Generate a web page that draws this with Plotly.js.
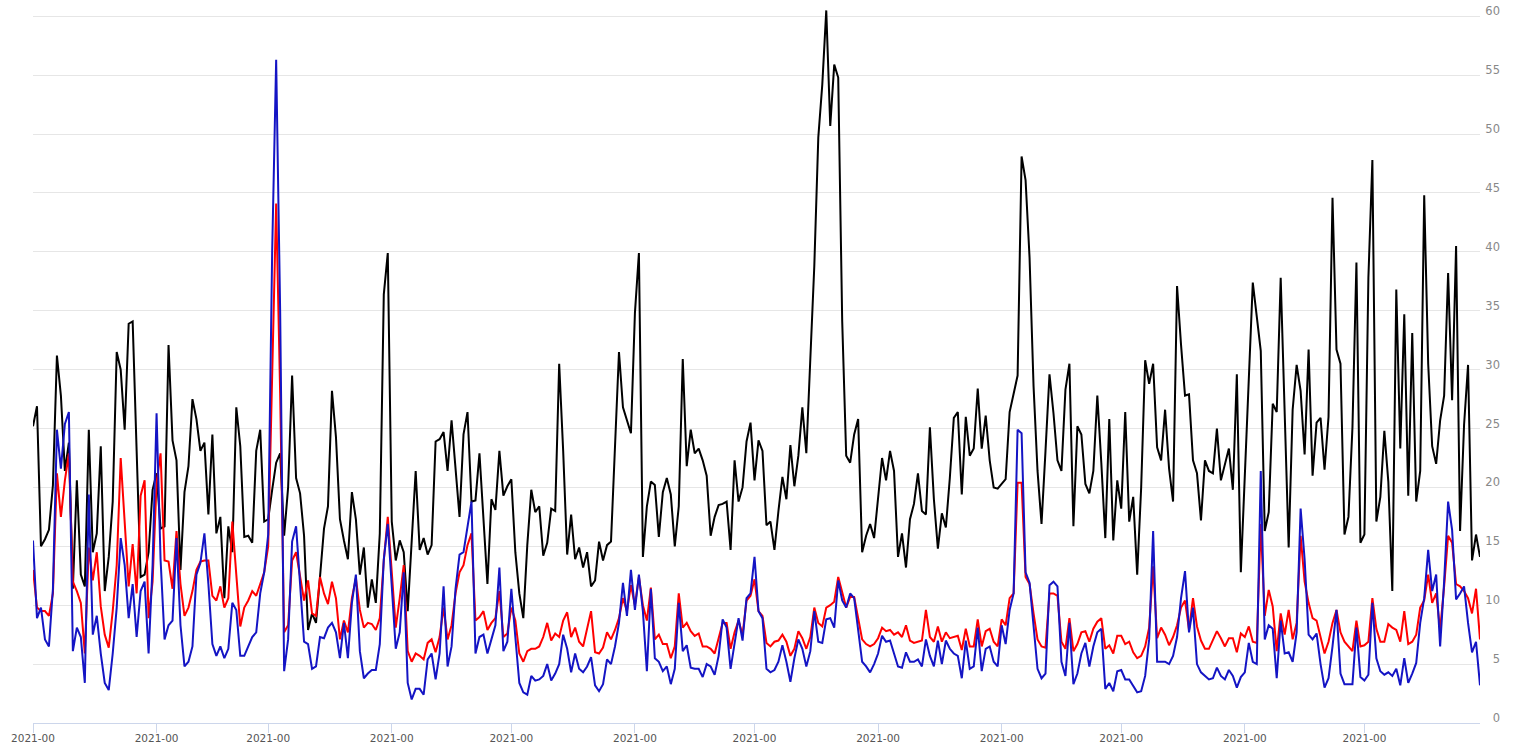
<!DOCTYPE html>
<html>
<head>
<meta charset="utf-8">
<script src="https://cdn.plot.ly/plotly-3.0.1.min.js"></script>
<style>html,body{margin:0;padding:0;background:#fff;}#chart{width:1518px;height:747px;}</style>
</head>
<body>
<div id="chart"></div>
<script>
// daily values, 2021-01-01 .. 2021-12-30
var blackSeries = [
25.2,26.9,15.0,15.6,16.4,20.2,31.2,27.8,21.4,23.8,11.4,20.6,12.6,11.6,24.9,14.5,16.1,23.5,11.2,14.1,18.8,31.5,30.0,24.9,33.9,34.1,23.1,12.4,12.6,14.5,19.8,21.2,16.5,16.7,32.1,24.0,22.3,13.0,19.6,21.8,27.5,25.8,23.1,23.8,17.7,24.5,16.1,17.5,10.6,16.7,14.5,26.8,23.5,15.8,15.9,15.3,23.1,24.9,17.1,17.3,19.8,
22.1,22.9,
15.9,20.0,29.5,20.8,19.5,15.9,7.9,9.3,8.5,12.4,16.5,18.4,28.2,24.3,17.3,15.5,13.9,19.6,17.3,12.6,14.9,9.8,12.2,10.2,16.1,36.4,39.9,17.1,13.8,15.5,14.5,9.5,15.5,21.4,14.7,15.7,14.3,15.1,23.9,24.1,24.7,21.4,25.7,21.2,17.5,24.5,26.4,18.8,18.9,22.9,17.5,11.8,19.0,18.1,23.1,19.3,20.1,20.7,14.5,
11.0,8.9,15.1,19.8,17.9,18.4,14.2,15.3,18.2,18.0,30.5,23.1,14.3,17.7,13.9,14.9,13.2,14.5,11.6,12.1,15.4,13.8,15.1,15.4,23.5,31.5,26.8,25.7,24.6,34.8,39.9,14.1,18.4,20.5,20.2,15.8,19.6,20.8,19.4,15.0,18.4,30.9,21.8,24.9,22.9,23.3,22.3,21.0,15.9,17.5,18.5,18.6,18.8,14.7,22.3,18.8,20.0,23.9,25.5,20.6,
24.0,23.1,16.8,17.1,14.7,18.0,20.9,19.0,23.6,20.1,22.7,26.8,22.9,30.9,38.8,49.7,54.2,60.5,50.7,55.9,54.8,34.1,22.7,22.1,24.5,25.8,14.5,15.9,16.9,15.7,19.2,22.5,20.6,23.1,21.4,14.1,16.1,13.2,17.3,18.6,21.2,18.0,17.7,25.1,19.0,14.8,17.8,16.6,20.8,25.9,26.4,19.4,26.0,22.7,23.3,28.4,23.3,26.1,22.3,20.0,
19.9,20.3,20.7,26.4,27.9,29.5,48.1,46.1,39.5,28.6,21.4,16.9,23.1,29.6,26.3,22.3,21.4,28.3,30.5,16.7,25.2,24.5,20.3,19.5,21.4,27.8,22.1,15.7,25.8,15.5,20.6,18.2,26.4,17.1,19.2,12.6,20.0,30.8,28.8,30.5,23.4,22.3,26.6,21.6,18.8,37.1,32.1,27.8,27.9,22.3,21.2,17.2,22.3,21.4,21.2,25.0,20.6,22.0,23.3,19.8,
29.6,12.8,21.4,29.4,37.4,34.5,31.6,16.3,17.9,27.1,26.4,37.8,26.6,14.9,26.6,30.4,28.2,22.8,31.7,21.0,25.5,25.9,21.5,26.0,44.6,31.7,30.5,16.0,17.5,25.1,39.1,15.3,16.0,37.8,47.8,17.1,19.2,24.8,20.5,11.2,36.8,23.3,34.7,19.3,33.1,18.8,21.4,44.8,30.5,23.5,22.0,25.7,27.8,38.2,27.4,40.5,16.3,25.3,30.4,13.8,16.0,14.1
];
var redSeries = [
13.0,9.8,9.5,9.5,9.1,11.0,21.2,17.5,20.6,22.9,12.0,11.2,10.2,5.9,14.9,12.1,14.5,9.9,7.5,6.4,9.5,13.4,22.5,16.5,11.6,15.2,11.0,19.3,20.6,8.9,12.0,20.4,22.9,13.8,13.7,11.4,16.3,11.8,9.1,9.8,11.2,13.0,13.7,13.8,13.8,10.8,10.4,11.6,9.8,10.6,17.1,12.6,8.2,9.8,10.4,11.2,10.8,11.8,12.8,15.0,30.0,
44.1,28.0,
7.7,8.3,13.8,14.5,12.6,10.4,12.1,9.3,9.1,12.4,11.0,10.1,12.0,10.6,7.1,8.7,7.7,10.6,12.3,9.6,8.1,8.5,8.4,7.9,8.9,13.8,17.5,12.6,8.1,10.6,13.4,6.1,5.2,5.9,5.7,5.4,6.8,7.1,6.0,7.3,9.8,7.1,8.3,11.0,12.8,13.4,15.1,16.1,8.7,9.0,9.5,7.9,8.5,8.9,11.2,7.3,7.6,9.8,8.7,
5.9,5.2,6.1,6.3,6.3,6.5,7.3,8.5,7.0,7.6,7.3,8.7,9.4,7.3,8.1,6.9,6.5,7.9,9.5,6.0,5.9,6.4,7.7,7.1,7.9,8.9,10.6,9.5,11.7,10.0,12.4,10.0,8.7,11.5,7.1,7.5,6.7,6.7,5.5,6.5,11.0,8.1,8.5,7.8,7.4,7.6,6.5,6.5,6.3,5.9,7.1,8.5,8.5,6.3,7.7,8.7,7.5,10.4,10.8,12.2,
9.5,9.1,6.8,6.5,6.9,7.0,7.5,6.9,5.7,6.3,7.8,7.2,6.3,7.3,9.8,8.5,8.2,9.8,10.0,10.3,12.4,11.0,9.8,10.7,10.7,8.9,7.1,6.7,6.5,6.7,7.2,8.1,7.8,7.9,7.5,7.7,7.3,8.3,7.0,6.8,6.9,7.0,9.6,7.3,6.9,8.2,6.9,7.7,7.2,7.3,7.4,6.2,8.0,6.5,6.5,8.8,6.5,7.8,8.0,6.9,
6.5,8.8,8.3,10.6,11.0,20.4,20.4,12.4,11.8,9.3,7.1,6.5,6.4,11.0,11.0,10.8,6.9,6.3,8.9,6.1,6.7,7.7,7.8,6.9,8.0,8.6,8.9,6.3,6.6,5.9,7.4,7.4,6.7,6.9,6.0,5.5,5.7,6.5,8.1,13.3,7.2,8.1,7.5,6.6,7.3,8.3,9.8,10.4,7.9,10.6,8.2,7.0,6.3,6.3,7.0,7.8,7.2,6.5,7.2,7.2,
6.0,7.6,7.3,8.2,6.9,6.8,16.9,9.1,11.3,9.9,6.1,9.3,7.5,9.6,7.1,8.5,15.9,12.0,10.2,8.9,8.7,7.3,5.9,6.9,8.5,9.6,7.7,6.9,6.5,6.1,8.7,6.5,6.6,6.9,10.6,8.0,6.9,6.9,8.4,8.1,7.9,6.9,9.5,6.7,6.9,7.5,9.8,10.4,12.6,10.2,11.0,7.9,11.6,15.9,15.3,11.8,11.6,11.2,10.6,9.3,11.4,7.1
];
var blueSeries = [
15.5,8.9,9.8,7.1,6.5,11.4,24.9,21.6,25.4,26.4,6.1,8.1,7.3,3.4,19.4,7.5,9.1,5.9,3.4,2.8,5.9,9.8,15.7,13.4,8.9,11.8,7.3,11.2,12.0,5.9,13.4,26.3,13.9,7.1,8.3,8.7,15.7,8.3,4.8,5.2,6.5,12.6,13.6,16.1,11.8,6.7,5.7,6.5,5.5,6.3,10.2,9.6,5.7,5.7,6.5,7.3,7.7,11.0,12.8,16.0,40.0,
56.3,35.0,
4.4,7.1,15.4,16.7,12.2,6.9,6.7,4.6,4.8,7.3,7.2,8.1,8.5,7.7,5.5,8.5,5.5,10.2,12.6,6.1,3.8,4.2,4.5,4.5,6.7,13.9,16.9,12.0,6.3,7.7,12.8,3.4,2.0,2.9,2.9,2.4,5.4,5.9,3.7,5.9,11.6,4.8,6.5,11.4,14.3,14.5,16.5,18.8,5.9,7.3,7.5,5.9,7.1,8.3,13.2,6.1,6.9,11.4,7.3,
3.4,2.6,2.4,4.0,3.6,3.7,4.0,5.0,3.6,4.2,5.0,7.5,6.3,4.3,5.9,4.6,4.3,4.8,5.6,3.2,2.7,3.3,5.4,5.0,6.5,8.5,11.9,9.1,13.0,9.6,12.6,9.5,4.4,11.4,5.5,5.2,4.4,4.8,3.3,4.6,10.2,6.1,6.6,4.7,4.6,4.6,3.9,5.0,4.8,4.1,5.7,8.8,8.1,4.6,6.9,8.9,7.0,10.6,11.0,14.1,
9.5,8.9,4.6,4.3,4.5,5.2,6.6,5.2,3.5,5.5,7.1,6.3,4.8,6.1,9.5,6.9,6.8,8.8,8.9,8.1,12.1,10.4,9.8,11.0,10.6,7.9,5.2,4.8,4.3,5.0,5.9,7.4,6.9,7.0,5.9,4.8,4.7,6.0,5.2,5.2,5.4,4.8,7.1,5.7,4.8,7.0,5.0,7.0,6.3,5.9,5.7,3.8,7.0,4.6,4.8,8.1,4.4,6.3,6.5,5.2,
4.8,8.3,6.7,9.6,11.0,24.9,24.6,12.8,11.9,7.9,4.6,3.8,4.2,11.7,12.0,11.6,5.2,4.0,8.5,3.3,4.2,5.9,6.8,4.8,6.5,7.7,8.0,2.9,3.4,2.7,4.4,4.5,3.7,3.7,3.2,2.6,2.7,4.0,7.1,16.3,5.2,5.2,5.2,5.0,5.7,7.3,10.6,12.9,7.7,9.8,5.0,4.3,4.0,3.7,3.8,4.7,4.0,3.7,4.5,4.0,
3.0,3.9,4.3,6.8,5.2,5.0,21.4,7.1,8.3,8.0,3.8,8.7,5.9,6.0,5.2,7.7,18.2,13.9,7.5,7.1,7.6,5.0,3.0,3.8,6.5,9.6,4.2,3.3,3.3,3.3,8.1,3.9,3.6,4.1,10.2,5.5,4.4,4.1,4.3,4.0,4.6,3.2,5.5,3.4,4.2,5.1,8.5,10.6,14.7,11.2,12.6,6.5,12.0,18.8,16.4,10.5,11.0,11.6,8.5,6.0,6.9,3.2
];
var tickDates = ['2021-01-01','2021-02-01','2021-03-01','2021-04-01','2021-05-01','2021-06-01','2021-07-01','2021-08-01','2021-09-01','2021-10-01','2021-11-01','2021-12-01'];
var tickLabels = ['2021-00','2021-00','2021-00','2021-00','2021-00','2021-00','2021-00','2021-00','2021-00','2021-00','2021-00','2021-00'];

function pad(n){return (n<10?'0':'')+n;}
var dates = [];
var t0 = Date.UTC(2021,0,1);
for (var i=0;i<blackSeries.length;i++){
  var d = new Date(t0 + i*86400000);
  dates.push(d.getUTCFullYear()+'-'+pad(d.getUTCMonth()+1)+'-'+pad(d.getUTCDate()));
}

var traces = [
  {x:dates, y:blackSeries, type:'scatter', mode:'lines', line:{color:'#000000', width:2}, hoverinfo:'skip'},
  {x:dates, y:redSeries, type:'scatter', mode:'lines', line:{color:'#ff0000', width:2}, hoverinfo:'skip'},
  {x:dates, y:blueSeries, type:'scatter', mode:'lines', line:{color:'#1414c4', width:2}, hoverinfo:'skip'}
];

var layout = {
  width:1518, height:747,
  margin:{l:33, r:18, t:1, b:24, pad:0},
  paper_bgcolor:'#ffffff', plot_bgcolor:'#ffffff',
  showlegend:false,
  hovermode:false,
  xaxis:{
    type:'date',
    domain:[0, 0.98637],
    range:[dates[0], dates[dates.length-1]],
    tickmode:'array', tickvals:tickDates, ticktext:tickLabels,
    ticks:'outside', ticklen:9, tickwidth:1, tickcolor:'#ccd6eb',
    ticklabelstandoff:-4,
    showline:true, linecolor:'#ccd6eb', linewidth:1,
    showgrid:false, zeroline:false,
    tickfont:{family:'DejaVu Sans', size:10.5, color:'#555555'}
  },
  yaxis:{
    range:[0, 61.3],
    tick0:0, dtick:5,
    anchor:'free', position:1, side:'left',
    ticks:'', showline:false, zeroline:false,
    showgrid:true, gridcolor:'#e6e6e6', gridwidth:1,
    ticklabelshift:-5,
    tickfont:{family:'DejaVu Sans', size:11.5, color:'#888888'}
  }
};

Plotly.newPlot('chart', traces, layout, {displayModeBar:false, staticPlot:true});
</script>
</body>
</html>
